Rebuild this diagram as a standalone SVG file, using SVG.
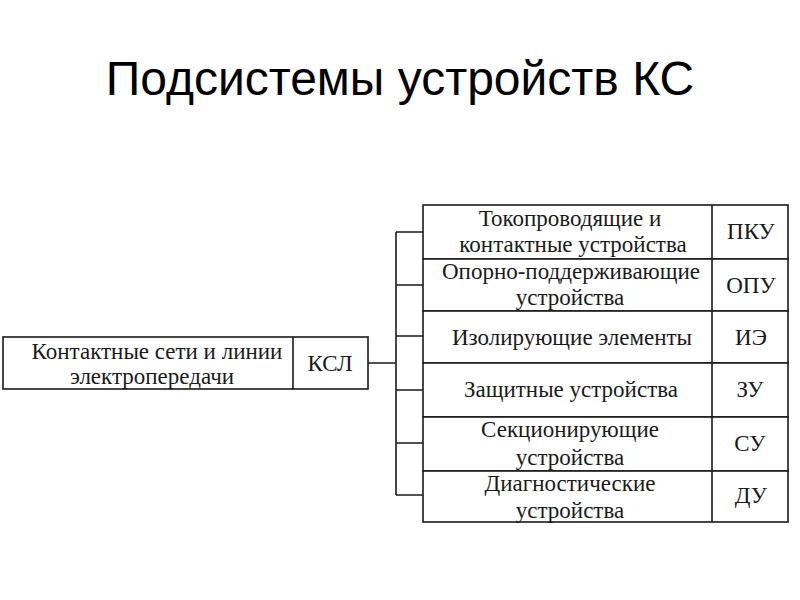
<svg xmlns="http://www.w3.org/2000/svg" width="800" height="600" viewBox="0 0 800 600">
<style>
.box{fill:#fff;stroke:#1a1a1a;stroke-width:1.6}
.ln{fill:none;stroke:#1a1a1a;stroke-width:1.6}
.t{font-family:"Liberation Serif","Times New Roman","DejaVu Serif",serif;font-size:23px;fill:#1a1a1a;text-anchor:middle}
.title{font-family:"Liberation Sans",Arial,sans-serif;font-size:48px;fill:#000;text-anchor:middle}
</style>
<rect width="800" height="600" fill="#fff"/>
<text class="title" x="400" y="95">Подсистемы устройств КС</text>

<g id="ksl">
<rect class="box" x="3" y="337" width="365" height="52"/>
<line class="ln" x1="293" y1="337" x2="293" y2="389"/>
<text class="t" x="157" y="359">Контактные сети и линии</text>
<text class="t" x="152" y="384">электропередачи</text>
<text class="t" x="330" y="371">КСЛ</text>
</g>

<g id="connectors">
<path class="ln" d="M368 363 H396 M396 232 V495 M396 232 H423 M396 285 H423 M396 336 H423 M396 390 H423 M396 443 H423 M396 495 H423"/>
</g>

<g id="pku">
<rect class="box" x="423" y="205" width="365" height="54"/>
<line class="ln" x1="712" y1="205" x2="712" y2="259"/>
<text class="t" x="570" y="226">Токопроводящие и</text>
<text class="t" x="573" y="252">контактные устройства</text>
<text class="t" x="751" y="239">ПКУ</text>
</g>
<g id="opu">
<rect class="box" x="423" y="259" width="365" height="52"/>
<line class="ln" x1="712" y1="259" x2="712" y2="311"/>
<text class="t" x="571" y="279">Опорно-поддерживающие</text>
<text class="t" x="570" y="305">устройства</text>
<text class="t" x="751" y="293">ОПУ</text>
</g>
<g id="ie">
<rect class="box" x="423" y="311" width="365" height="52"/>
<line class="ln" x1="712" y1="311" x2="712" y2="363"/>
<text class="t" x="572" y="345">Изолирующие элементы</text>
<text class="t" x="751" y="345">ИЭ</text>
</g>
<g id="zu">
<rect class="box" x="423" y="363" width="365" height="54"/>
<line class="ln" x1="712" y1="363" x2="712" y2="417"/>
<text class="t" x="571" y="397">Защитные устройства</text>
<text class="t" x="750" y="397">ЗУ</text>
</g>
<g id="su">
<rect class="box" x="423" y="417" width="365" height="54"/>
<line class="ln" x1="712" y1="417" x2="712" y2="471"/>
<text class="t" x="570" y="437">Секционирующие</text>
<text class="t" x="570" y="465">устройства</text>
<text class="t" x="750" y="451">СУ</text>
</g>
<g id="du">
<rect class="box" x="423" y="471" width="365" height="51"/>
<line class="ln" x1="712" y1="471" x2="712" y2="522"/>
<text class="t" x="570" y="491">Диагностические</text>
<text class="t" x="570" y="518">устройства</text>
<text class="t" x="751" y="503">ДУ</text>
</g>
</svg>
